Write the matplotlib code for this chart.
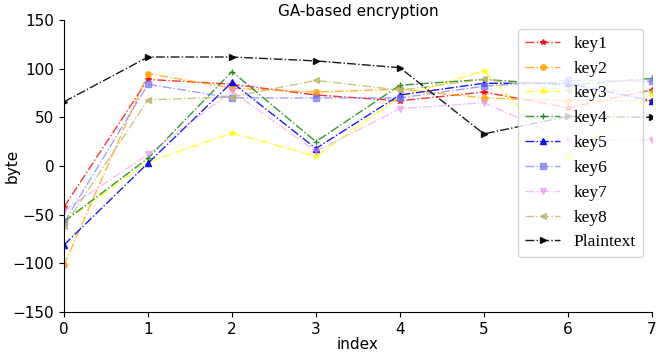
import numpy as np
import matplotlib
matplotlib.use('Agg')
import matplotlib.pyplot as plt

index = np.arange(8)

key1 = [-42, 89, 84, 73, 67, 76, 60, 78]
key2 = [-102, 95, 80, 76, 79, 70, 67, 67]
key3 = [-57, 4, 34, 10, 71, 98, 9, 74]
key4 = [-57, 8, 97, 25, 83, 89, 83, 90]
key5 = [-81, 3, 86, 18, 73, 85, 85, 67]
key6 = [-58, 84, 70, 70, 70, 82, 88, 87]
key7 = [-46, 12, 77, 15, 59, 65, 27, 27]
key8 = [-62, 68, 71, 88, 78, 89, 78, 77]
plaintext = [66, 112, 112, 108, 101, 33, 51, 50]

series = [key1, key2, key3, key4, key5, key6, key7, key8, plaintext]
names = ['key1', 'key2', 'key3', 'key4', 'key5', 'key6', 'key7', 'key8', 'Plaintext']
colors = ['red', 'orange', 'yellow', 'green', 'blue', '#7777ff', 'violet', 'darkkhaki', 'black']
markers = ['*', 'o', '*', '+', '^', 's', 'v', '<', '>']
alphas = [0.8, 0.8, 0.8, 0.8, 0.9, 0.7, 0.5, 0.8, 0.9]

fig = plt.figure(figsize=(6.56, 3.52), dpi=100)
ax = fig.add_axes([0.0976, 0.1136, 0.896, 0.8295])

for vals, name, c, m, a in zip(series, names, colors, markers, alphas):
    ax.plot(index, vals, linestyle='-.', color=c, marker=m, markersize=4,
            linewidth=1, alpha=a, label=name)

ax.set_xlim(0, 7)
ax.set_ylim(-150, 150)
ax.set_xticks(index)
ax.set_yticks([-150, -100, -50, 0, 50, 100, 150])
ax.tick_params(labelsize=11)
ax.spines['top'].set_visible(False)
ax.spines['right'].set_visible(False)
ax.set_xlabel('index', fontsize=11, labelpad=0)
ax.set_ylabel('byte', fontsize=11)
ax.yaxis.set_label_coords(-0.075, 0.5)
ax.set_title('GA-based encryption', fontsize=11, pad=3)
ax.legend(loc='upper right', prop={'family': 'Liberation Serif', 'size': 12.5},
          handlelength=2)

fig.savefig('out.png', dpi=100)
